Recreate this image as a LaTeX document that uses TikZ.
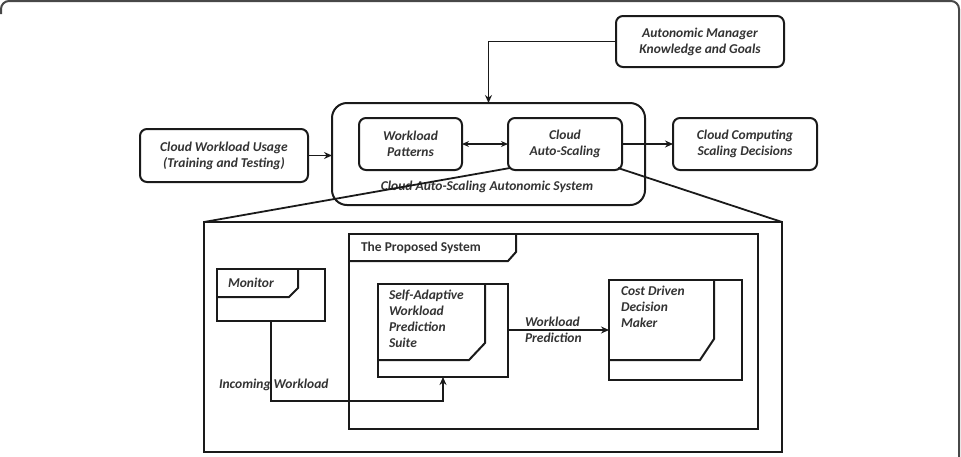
\documentclass[tikz,border=0pt]{standalone}
\usepackage{fontspec}
\setmainfont{Carlito}
\usetikzlibrary{arrows.meta,calc}
\definecolor{txt}{HTML}{333333}
\definecolor{ln}{HTML}{1A1A1A}
\begin{document}
\begin{tikzpicture}[x=1pt,y=-1pt,
  every node/.style={inner sep=0pt,outer sep=0pt},
  rbox/.style={draw=ln,line width=2pt,rounded corners=7pt},
  sbox/.style={draw=ln,line width=2pt},
  lbl/.style={text=txt,font=\fontsize{13.5}{16}\selectfont\bfseries\itshape,align=center},
  llbl/.style={text=txt,font=\fontsize{13.5}{16}\selectfont\bfseries\itshape,align=left},
  arr/.style={draw=ln,line width=1.8pt,-{Stealth[length=8pt,width=7pt]}},
  conn/.style={draw=ln,line width=1.8pt}]
\useasboundingbox (0,0) rectangle (961,456);
% outer frame
\draw[draw=ln!80,line width=2pt,rounded corners=8pt] (1,14) -- (1,1) -- (959,1) -- (959,470);
% top part
\node[rbox,minimum width=168pt,minimum height=51pt] (am) at (700,41.5) {};
\node[lbl] at (am) {Autonomic Manager\\Knowledge and Goals};
\node[rbox,minimum width=168pt,minimum height=53pt] (cwu) at (224,155.5) {};
\node[lbl] at (cwu) {Cloud Workload Usage\\(Training and Testing)};
\node[rbox,rounded corners=15pt,minimum width=313pt,minimum height=102pt] (cont) at (488.5,154) {};
\node[rbox,minimum width=103pt,minimum height=52pt] (wp) at (410.5,144) {};
\node[lbl] at (wp) {Workload\\Patterns};
\node[rbox,minimum width=114pt,minimum height=52pt] (cas) at (565,144) {};
\node[lbl] at (cas) {Cloud\\Auto-Scaling};
\node[rbox,minimum width=144pt,minimum height=52pt] (ccsd) at (745,144) {};
\node[lbl] at (ccsd) {Cloud Computing\\Scaling Decisions};
\node[lbl] (contlbl) at (487,187) {Cloud Auto-Scaling Autonomic System};
\draw[arr] (am.west) -| (cont.north);
\draw[arr] (cwu.east) -- (cwu.east -| cont.west);
\draw[draw=ln,line width=1.3pt,{Stealth[length=7pt,width=6pt]}-{Stealth[length=7pt,width=6pt]}] (wp.east) -- (cas.west);
\draw[arr] (cas.east) -- (ccsd.west);
% detail box
\node[sbox,minimum width=578pt,minimum height=230pt] (big) at (493,337) {};
\draw[conn] ($(cas.south west)+(2,-2)$) -- (big.north west);
\draw[conn] ($(cas.south east)+(-4,-2)$) -- (big.north east);
\node[sbox,minimum width=409pt,minimum height=195pt] (prop) at (553.5,331.5) {};
\draw[sbox] ($(prop.north west)+(0,27)$) -- ++(159,0) -- ++(8,-9) -- ++(0,-18);
\node[text=txt,font=\fontsize{13.5}{16}\selectfont\bfseries,anchor=west] (proplbl) at (361,248) {The Proposed System};
% monitor
\node[sbox,minimum width=108pt,minimum height=52pt] (mon) at (271,295) {};
\draw[sbox] ($(mon.north west)+(0,28)$) -- ++(72,0) -- ++(9,-9) -- ++(0,-19);
\node[llbl,anchor=west] (monlbl) at (228,283) {Monitor};
% SAWPS
\node[sbox,minimum width=130pt,minimum height=93pt] (sa) at (443,330.5) {};
\draw[sbox] ($(sa.north west)+(0,76)$) -- ++(91,0) -- ++(16,-17) -- ++(0,-59);
\node[llbl,anchor=north west] (salbl) at (389,290) {Self-Adaptive\\Workload\\Prediction\\Suite};
% CDDM
\node[sbox,minimum width=133pt,minimum height=100pt] (cd) at (675.5,330) {};
\draw[sbox] ($(cd.north west)+(0,80)$) -- ++(91,0) -- ++(14,-21) -- ++(0,-59);
\node[llbl,anchor=north west] (cdlbl) at (621,286) {Cost Driven\\Decision\\Maker};
% connectors
\draw[arr] (sa.east |- 0,330) -- (cd.west |- 0,330);
\node[llbl,anchor=west] (wplbl) at (525,330) {Workload\\Prediction};
\coordinate (bend) at ($(sa.south)+(0,24)$);
\draw[arr] (mon.south) |- (bend) -- (sa.south);
\node[llbl,anchor=west] (iwlbl) at (219,385) {Incoming Workload};
\end{tikzpicture}
\end{document}
